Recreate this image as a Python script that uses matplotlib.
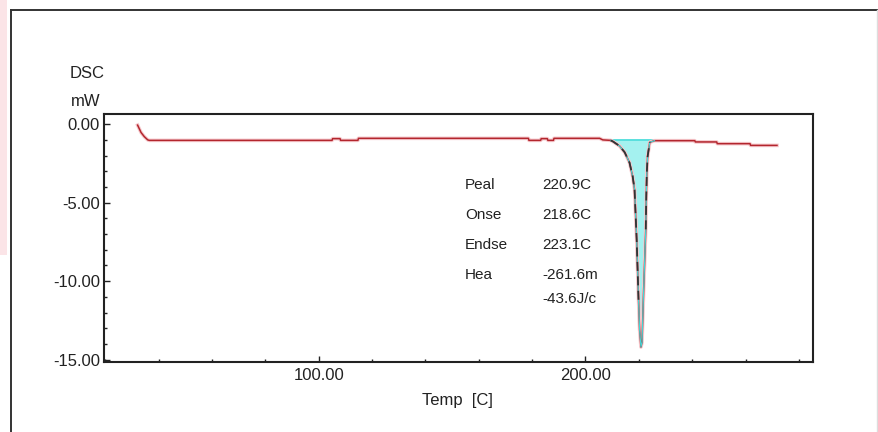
import numpy as np
import matplotlib.pyplot as plt
from matplotlib.lines import Line2D
from matplotlib.patches import Rectangle
from matplotlib.ticker import MultipleLocator, FormatStrFormatter

plt.rcParams['font.family'] = ['Liberation Sans', 'DejaVu Sans']

# DSC curve (Temp in C, DSC in mW)
temp_c = [32.1, 32.7, 33.4, 34.6, 35.9, 36.5,
          105.0, 105.2, 108.0, 108.2, 114.7, 114.9,
          178.6, 178.8, 183.2, 183.4, 185.7, 185.9, 188.0, 188.2,
          205.3, 206.5, 209.4,
          210.2, 212.8, 214.7, 216.5, 217.7, 218.4, 219.2, 219.9, 220.3, 220.8,
          221.2, 221.8, 222.6, 222.8, 223.0, 223.3, 224.1, 225.9,
          241.0, 241.2, 249.2, 249.4, 261.7, 261.9, 271.8]
dsc_mw = [-0.06, -0.28, -0.53, -0.79, -1.00, -1.03,
          -1.03, -0.92, -0.92, -1.03, -1.03, -0.90,
          -0.90, -1.03, -1.03, -0.92, -0.92, -1.03, -1.03, -0.90,
          -0.90, -1.00, -1.03,
          -1.09, -1.39, -1.79, -2.44, -3.33, -4.17, -7.37, -11.2, -13.1, -14.2,
          -13.9, -10.6, -6.7, -4.6, -3.1, -2.05, -1.15, -1.05,
          -1.05, -1.13, -1.13, -1.24, -1.24, -1.35, -1.35]

# integration baseline of the melting peak
base_start, base_end, base_mw = 209.4, 225.9, -1.02

# peak report
info_names = ["Peal", "Onse", "Endse", "Hea", ""]
info_values = ["220.9C", "218.6C", "223.1C", "-261.6m", "-43.6J/c"]

x_major = [100, 200]
y_major = [0, -5, -10, -15]

W, H = 879, 432
fig = plt.figure(figsize=(W / 100, H / 100), dpi=100)

def fx(x):
    return x / W

def fy(y):
    return 1 - y / H

# outer frame of the screenshot + faint pink mark on the left edge
fig.add_artist(Rectangle((0, fy(255)), fx(7), fy(0) - fy(255), transform=fig.transFigure,
                         color="#fbe4e7", lw=0))
fig.add_artist(Line2D([fx(11.5), fx(11.5)], [fy(10), fy(432)], color="#333333", lw=1.4))
fig.add_artist(Line2D([fx(11.5), fx(879)], [fy(10), fy(10)], color="#333333", lw=1.4))
fig.add_artist(Line2D([fx(877), fx(877)], [fy(10), fy(432)], color="#dddddd", lw=1.0))

ax = fig.add_axes([fx(104), fy(362), fx(813) - fx(104), fy(114) - fy(362)])

t = np.array(temp_c)
d = np.array(dsc_mw)

# cyan peak area
in_peak = (t >= base_start) & (t <= base_end)
ax.fill_between(t[in_peak], d[in_peak], base_mw, color="#a4f1ef", lw=0, zorder=2)
ax.plot([base_start, base_end], [base_mw, base_mw], color="#3fdad8", lw=1.2, zorder=3)

# red trace with a soft halo
ax.plot(t, d, color="#f6c9cd", lw=2.6, zorder=3)
ax.plot(t, d, color="#b3262e", lw=1.1, zorder=4)
ax.plot(t[in_peak], d[in_peak], color="#3fdad8", lw=0.8, zorder=5)

# dark dashed flanks
left = (t >= 209.4) & (t <= 219.9)
right = (t >= 222.6) & (t <= 224.1)
for m in (left, right):
    ax.plot(t[m], d[m], color="#333333", lw=1.3, linestyle=(0, (5, 3)), zorder=6)

ax.set_xlim(19.5, 285.3)
ax.set_ylim(-15.15, 0.65)

ax.set_xticks(x_major)
ax.set_yticks(y_major)
ax.xaxis.set_minor_locator(MultipleLocator(20))
ax.yaxis.set_minor_locator(MultipleLocator(1))
ax.xaxis.set_major_formatter(FormatStrFormatter("%.2f"))
ax.yaxis.set_major_formatter(FormatStrFormatter("%.2f"))
ax.tick_params(which="both", direction="in", width=1, color="#222222",
               labelsize=12, labelcolor="#222222")
ax.tick_params(which="major", length=4)
ax.tick_params(which="minor", length=2.5)
ax.tick_params(axis="x", pad=4)
ax.tick_params(axis="y", pad=3)
for s in ax.spines.values():
    s.set_linewidth(1.5)
    s.set_color("#222222")

fig.text(fx(70), fy(74), "DSC", ha="left", va="center", fontsize=12, color="#222222")
fig.text(fx(71), fy(102), "mW", ha="left", va="center", fontsize=12, color="#222222")
fig.text(fx(457), fy(400), "Temp  [C]", ha="center", va="center", fontsize=12, color="#222222")

row_y = [185, 215, 245, 275, 299]
for name, val, y in zip(info_names, info_values, row_y):
    fig.text(fx(465), fy(y), name, ha="left", va="center", fontsize=11, color="#222222")
    fig.text(fx(542), fy(y), val, ha="left", va="center", fontsize=11, color="#222222")

fig.savefig("out.png", dpi=100)
